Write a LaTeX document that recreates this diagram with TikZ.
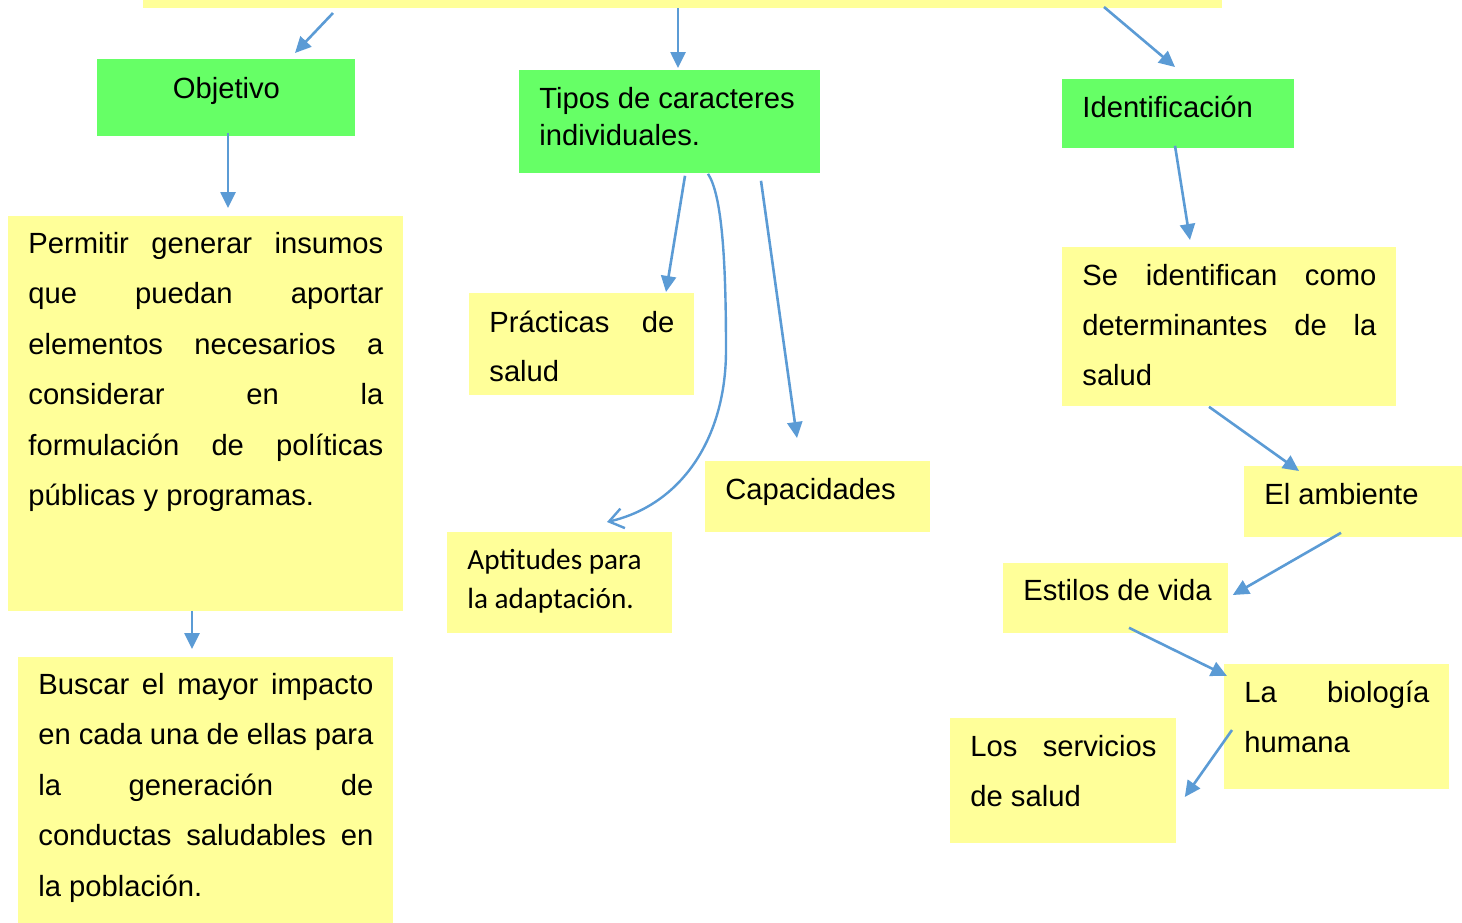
\documentclass[tikz,border=0pt]{standalone}
\usepackage{fontspec}
\setmainfont{Liberation Sans}
\newfontfamily\calibrifont{Carlito}
\usetikzlibrary{arrows.meta}
\definecolor{boxgreen}{HTML}{66FF66}
\definecolor{boxyellow}{HTML}{FFFF99}
\definecolor{linkblue}{HTML}{5B9BD5}
\newcommand{\jline}[1]{\makebox[\linewidth][s]{\spaceskip=0pt\relax #1}}
\newcommand{\boxfont}[1]{\fontsize{14.6pt}{#1}\selectfont}
\tikzset{
    green-box/.style = {fill=boxgreen, anchor=north west, inner xsep=10pt, inner ysep=0pt, align=justify},
    yellow-box/.style = {fill=boxyellow, anchor=north west, inner xsep=10pt, inner ysep=0pt, align=justify},
    link-arrow/.style = {draw=linkblue, line width=1.3pt, -{Triangle[length=8pt,width=7.5pt]}},
    open-arrow/.style = {draw=linkblue, line width=1.2pt, -{Straight Barb[length=7pt,width=10pt]}},
}

\begin{document}
\begin{tikzpicture}[x=0.5pt,y=-0.5pt]
\useasboundingbox (0,0) rectangle (1462,922);
\node[fill=boxyellow, anchor=south west, inner sep=0pt, minimum width=539.5pt, minimum height=20pt] (tema) at (143,8) {};

\node[green-box, align=center, text width=109pt, text height=19.5pt, text depth=19pt, font=\boxfont{17pt}] (objetivo) at (97,59) {Objetivo};
\node[yellow-box, text width=177.5pt, text height=18.5pt, text depth=179pt, font=\boxfont{25.2pt}] (permitir) at (8,216)
    {\jline{Permitir generar insumos}\\ \jline{que puedan aportar}\\ \jline{elementos necesarios a}\\ \jline{considerar en la}\\ \jline{formulación de políticas}\\ públicas y programas.};
\node[yellow-box, text width=167.5pt, text height=18.5pt, text depth=115.5pt, font=\boxfont{25.2pt}] (buscar) at (18,657)
    {\jline{Buscar el mayor impacto}\\ \jline{en cada una de ellas para}\\ \jline{la generación de}\\ \jline{conductas saludables en}\\ la población.};

\node[green-box, text width=130.5pt, text height=19pt, text depth=32.5pt, font=\boxfont{18.5pt}] (tipos) at (519,70) {Tipos de caracteres\\ individuales.};
\node[yellow-box, text width=92.5pt, text height=19.35pt, text depth=31.65pt, font=\boxfont{24.5pt}] (practicas) at (469,293) {\jline{Prácticas de}\\ salud};
\node[yellow-box, text width=92.5pt, text height=19pt, text depth=16.5pt, font=\boxfont{17pt}] (capacidades) at (705,461) {Capacidades};
\node[yellow-box, text width=92.5pt, text height=18.5pt, text depth=32pt, font=\calibrifont\boxfont{19.5pt}] (aptitudes) at (447,532) {Aptitudes para\\ la adaptación.};

\node[green-box, text width=96pt, text height=19pt, text depth=15.5pt, font=\boxfont{17pt}] (identificacion) at (1062,79) {Identificación};
\node[yellow-box, text width=147pt, text height=19pt, text depth=60.5pt, font=\boxfont{25pt}] (determinantes) at (1062,247)
    {\jline{Se identifican como}\\ \jline{determinantes de la}\\ salud};
\node[yellow-box, text width=89pt, text height=19pt, text depth=16.5pt, font=\boxfont{17pt}] (ambiente) at (1244,466) {El ambiente};
\node[yellow-box, text width=92.5pt, text height=18.5pt, text depth=16.5pt, font=\boxfont{17pt}] (estilos) at (1003,563) {\mbox{Estilos de vida}};
\node[yellow-box, text width=92.5pt, text height=18.85pt, text depth=43.65pt, font=\boxfont{25pt}] (biologia) at (1224,664) {\jline{La biología}\\ humana};
\node[yellow-box, text width=93pt, text height=18.85pt, text depth=43.65pt, font=\boxfont{25pt}] (servicios) at (950,718) {\jline{Los servicios}\\ de salud};

\draw[link-arrow] ([shift={(190,5)}]tema.south west) -- ([shift={(198,-6)}]objetivo.north west);
\draw[link-arrow] ([shift={(535,0)}]tema.south west) -- ([shift={(159,-2)}]tipos.north west);
\draw[link-arrow] ([shift={(961,-1)}]tema.south west) -- ([shift={(113,-12)}]identificacion.north west);
\draw[link-arrow] ([shift={(131,-4)}]objetivo.south west) -- ([shift={(220,-8)}]permitir.north west);
\draw[link-arrow] ([shift={(184,-1)}]permitir.south west) -- ([shift={(174,-8)}]buscar.north west);
\draw[link-arrow] ([shift={(166,2)}]tipos.south west) -- ([shift={(197,-1)}]practicas.north west);
\draw[open-arrow] ([shift={(189,0)}]tipos.south west) .. controls (722,195) and (726,260) .. (726,350)
    .. controls (726,440) and (680,505) .. ([shift={(160,-10)}]aptitudes.north west);
\draw[link-arrow] ([shift={(242,7)}]tipos.south west) -- ([shift={(92,-23)}]capacidades.north west);
\draw[link-arrow] ([shift={(113,-3)}]identificacion.south west) -- ([shift={(128,-7)}]determinantes.north west);
\draw[link-arrow] ([shift={(147,0)}]determinantes.south west) -- ([shift={(55,5)}]ambiente.north west);
\draw[link-arrow] ([shift={(97,-5)}]ambiente.south west) -- ([shift={(4,32)}]estilos.north east);
\draw[link-arrow] ([shift={(126,-6)}]estilos.south west) -- ([shift={(3,12)}]biologia.north west);
\draw[link-arrow] ([shift={(8,66)}]biologia.north west) -- ([shift={(8,79)}]servicios.north east);
\end{tikzpicture}
\end{document}
